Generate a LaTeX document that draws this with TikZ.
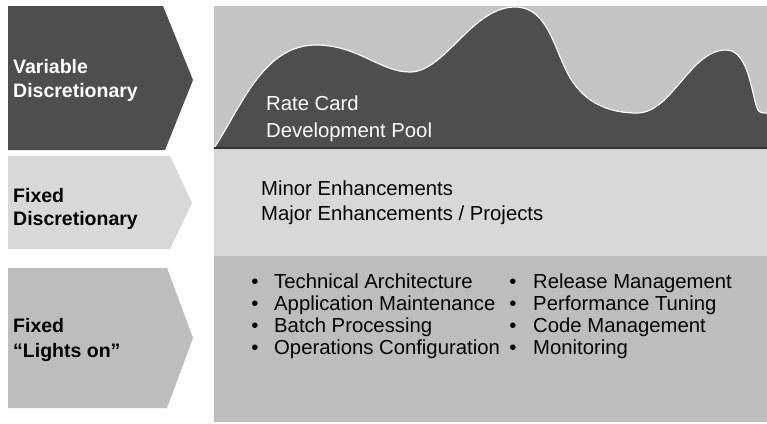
\documentclass[tikz,border=0pt]{standalone}
\usepackage{fontspec}
\setmainfont{Liberation Sans}
\definecolor{darkfill}{HTML}{4E4E4E}
\definecolor{topbg}{HTML}{C4C4C4}
\definecolor{midfill}{HTML}{D8D8D8}
\definecolor{botfill}{HTML}{BDBDBD}
\tikzset{
  chev/.style={draw=none},
  panel/.style={draw=none},
  lbl/.style={anchor=base west, inner sep=0pt, font=\fontsize{19.5}{22}\selectfont\bfseries},
  txt/.style={anchor=base west, inner sep=0pt, font=\fontsize{20.3}{22}\selectfont},
  bul/.style={anchor=base, inner sep=0pt, font=\fontsize{20.3}{22}\selectfont},
}
\begin{document}
\begin{tikzpicture}[x=1pt,y=-1pt]
\useasboundingbox[fill=white] (0,0) rectangle (767,423);
% left chevrons
\fill[chev, darkfill] (8,6) -- (163,6) -- (193,80) -- (165,150) -- (8,150) -- cycle;
\fill[chev, midfill] (8,156) -- (170,156) -- (192,203) -- (170,249) -- (8,249) -- cycle;
\fill[chev, botfill] (8,268) -- (167,268) -- (193,338) -- (167,408) -- (8,408) -- cycle;
% right panels
\fill[panel, topbg] (214,6) rectangle (767,148);
\fill[panel, midfill] (214,148) rectangle (767,256);
\fill[panel, botfill] (214,256) rectangle (767,422);
% mountains
\def\ridge{(214,148)
  .. controls (240,110) and (262,45) .. (316,45)
  .. controls (358,45) and (380,72) .. (410,72)
  .. controls (445,72) and (472,7) .. (515,7)
  .. controls (552,7) and (555,60) .. (575,85)
  .. controls (590,105) and (612,113) .. (637,113)
  .. controls (672,113) and (690,50) .. (726,50)
  .. controls (750,50) and (752,100) .. (758,110)
  .. controls (760,113) and (763,113) .. (767,113)}
\fill[darkfill] \ridge -- (767,148) -- cycle;
\draw[white, line width=1.2pt] \ridge;
\draw[black!80, line width=1.5pt] (214,148) -- (767,148);
% left labels
\node[lbl, white] (v1) at (13,73) {Variable};
\node[lbl, white] (v2) at (13,97) {Discretionary};
\node[lbl, black] (f1) at (13,202) {Fixed};
\node[lbl, black] (f2) at (13,225) {Discretionary};
\node[lbl, black] (l1) at (13,332) {Fixed};
\node[lbl, black] (l2) at (13,357) {“Lights on”};
% top panel text
\node[txt, white] (rc) at (266,110) {Rate Card};
\node[txt, white] (dp) at (266,137) {Development Pool};
% middle panel text
\node[txt] (mi) at (261,195) {Minor Enhancements};
\node[txt] (ma) at (261,220) {Major Enhancements / Projects};
% bullets
\foreach \y/\a/\b [count=\i] in {288/Technical Architecture/Release Management,
  310/Application Maintenance/Performance Tuning,
  332/Batch Processing/Code Management,
  354/Operations Configuration/Monitoring}{
  \node[bul] (ba\i) at (255,\y) {•};
  \node[txt] (ta\i) at (274,\y) {\a};
  \node[bul] (bb\i) at (513,\y) {•};
  \node[txt] (tb\i) at (533,\y) {\b};
}
\end{tikzpicture}
\end{document}
